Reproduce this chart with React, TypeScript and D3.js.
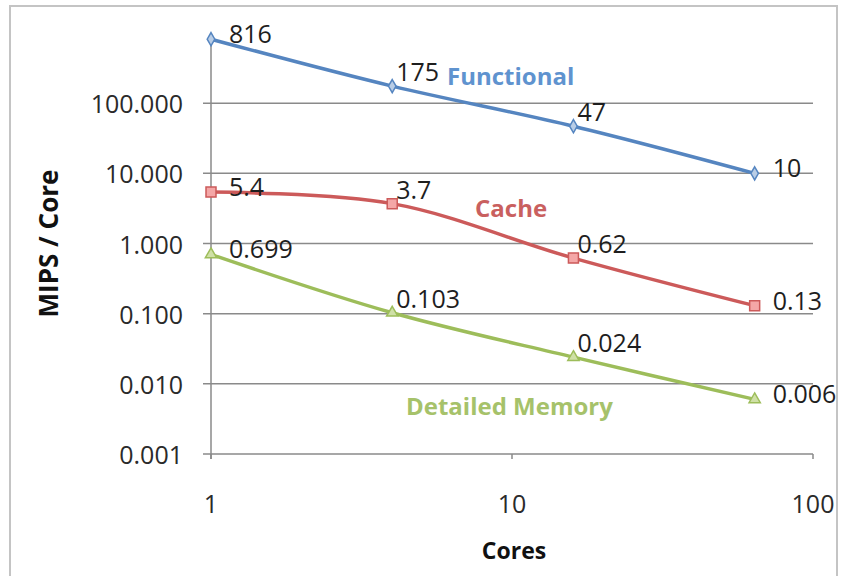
import React from "react";
import * as d3 from "d3";

// chart data
const cores = [1, 4, 16, 64];
const functional = [816, 175, 47, 10];
const cache = [5.4, 3.7, 0.62, 0.13];
const detailedMemory = [0.699, 0.103, 0.024, 0.006];
const functionalLabels = ["816", "175", "47", "10"];
const cacheLabels = ["5.4", "3.7", "0.62", "0.13"];
const memoryLabels = ["0.699", "0.103", "0.024", "0.006"];
const yTicks = [0.001, 0.01, 0.1, 1, 10, 100];
const yTickLabels = ["0.001", "0.010", "0.100", "1.000", "10.000", "100.000"];
const xTicks = [1, 10, 100];
const xTickLabels = ["1", "10", "100"];

const width = 841;
const height = 576;
const font = "'Open Sans', sans-serif";

const x = d3.scaleLog().domain([1, 100]).range([211, 813]);
const y = d3.scaleLog().domain([0.001, 1000]).range([454, 33]);

const line = d3
  .line<number>()
  .x((_, i) => x(cores[i]))
  .y((d) => y(d))
  .curve(d3.curveCatmullRom.alpha(0.5));

const series = [
  {
    name: "Functional",
    values: functional,
    labels: functionalLabels,
    color: "#5585c0",
    fill: "#b9cde6",
    textColor: "#5f93cf",
    marker: "diamond",
    nameX: 447,
    nameY: 75,
  },
  {
    name: "Cache",
    values: cache,
    labels: cacheLabels,
    color: "#cc5a5a",
    fill: "#f4a7a7",
    textColor: "#c9605f",
    marker: "square",
    nameX: 475,
    nameY: 207,
  },
  {
    name: "Detailed Memory",
    values: detailedMemory,
    labels: memoryLabels,
    color: "#9dbd5a",
    fill: "#cfe0a6",
    textColor: "#a6c26a",
    marker: "triangle",
    nameX: 406,
    nameY: 405,
  },
];

const markerPath = (type: string) => {
  if (type === "diamond") return d3.symbol(d3.symbolDiamond, 50)();
  if (type === "square") return d3.symbol(d3.symbolSquare, 100)();
  return d3.symbol(d3.symbolTriangle, 55)();
};

export default function App() {
  const gridColor = "#8a8a8a";
  return (
    <svg
      width={width}
      height={height}
      style={{ position: "absolute", left: 0, top: 0, background: "#fff" }}
      fontFamily={font}
    >
      <rect x={10} y={6} width={827} height={590} fill="#fff" stroke="#c4c4c4" strokeWidth={2} />

      {/* horizontal gridlines + y ticks */}
      {yTicks.map((t, i) => (
        <g key={t}>
          <line x1={203} x2={x(100)} y1={y(t)} y2={y(t)} stroke={gridColor} strokeWidth={1.5} />
          <text
            x={183}
            y={y(t)}
            textAnchor="end"
            dominantBaseline="central"
            fontSize={25}
            fill="#2a2a2a"
          >
            {yTickLabels[i]}
          </text>
        </g>
      ))}

      {/* y axis */}
      <line x1={x(1)} x2={x(1)} y1={y(1000)} y2={y(0.001) + 5} stroke={gridColor} strokeWidth={1.5} />

      {/* x ticks */}
      {xTicks.map((t, i) => (
        <g key={t}>
          <line x1={x(t)} x2={x(t)} y1={y(0.001)} y2={y(0.001) + 5} stroke={gridColor} strokeWidth={1.5} />
          <text
            x={x(t)}
            y={503}
            textAnchor="middle"
            dominantBaseline="central"
            fontSize={25}
            fill="#2a2a2a"
          >
            {xTickLabels[i]}
          </text>
        </g>
      ))}

      {/* axis titles */}
      <text
        x={514}
        y={550}
        textAnchor="middle"
        dominantBaseline="central"
        fontSize={23}
        fontWeight="bold"
        fill="#111"
      >
        Cores
      </text>
      <text
        transform={`translate(48,${(y(0.001) + y(1000)) / 2}) rotate(-90)`}
        textAnchor="middle"
        dominantBaseline="central"
        fontSize={26}
        fontWeight="bold"
        fill="#111"
      >
        MIPS / Core
      </text>

      {/* series */}
      {series.map((s) => (
        <g key={s.name}>
          <path d={line(s.values) || ""} fill="none" stroke={s.color} strokeWidth={3.5} />
          {s.values.map((v, i) => (
            <path
              key={i}
              d={markerPath(s.marker) || ""}
              transform={`translate(${x(cores[i])},${y(v)})`}
              fill={s.fill}
              stroke={s.color}
              strokeWidth={1.5}
            />
          ))}
          {s.values.map((v, i) => {
            const end = i === 0 || i === s.values.length - 1;
            return (
              <text
                key={"l" + i}
                x={x(cores[i]) + (end ? 18 : 4)}
                y={y(v) + (end ? -6 : -15)}
                dominantBaseline="central"
                fontSize={25}
                fill="#1e1e1e"
              >
                {s.labels[i]}
              </text>
            );
          })}
          <text
            x={s.nameX}
            y={s.nameY}
            dominantBaseline="central"
            fontSize={24}
            fontWeight="bold"
            fill={s.textColor}
          >
            {s.name}
          </text>
        </g>
      ))}
    </svg>
  );
}
